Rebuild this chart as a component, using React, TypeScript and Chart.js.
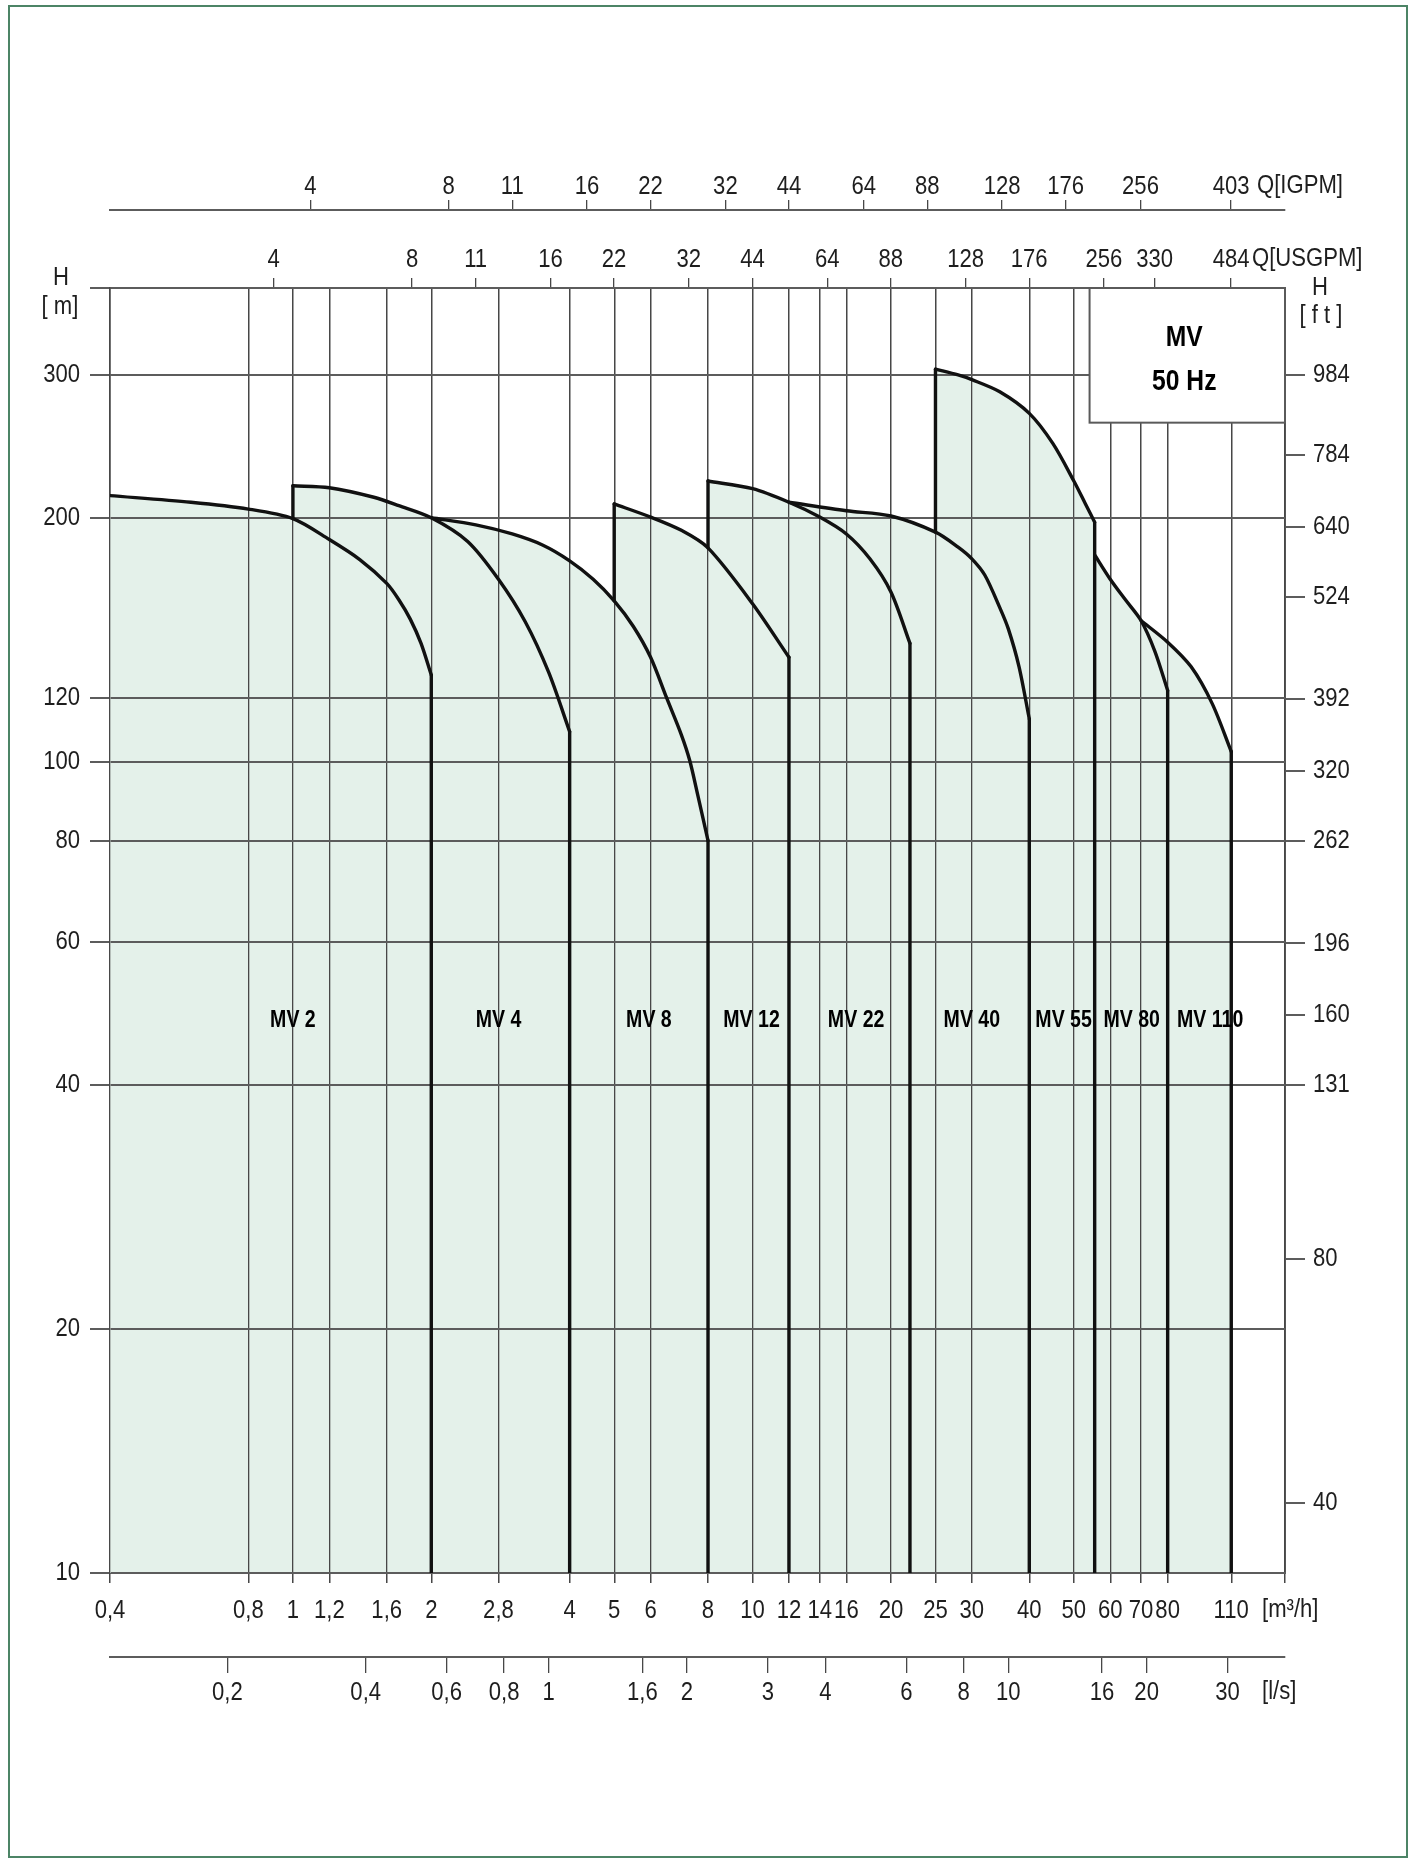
import React, { useEffect, useRef } from 'react';
import { Chart, registerables } from 'chart.js';

Chart.register(...registerables);

const FONT = "'Liberation Sans', Arial, sans-serif";
const SQUEEZE = 0.85;

// ---- axis ranges (m3/h and m) ----
const Q_MIN = 0.4;
const Q_MAX = 144;
const H_MIN = 10;
const H_MAX = 384;

// unit conversions
const TO_LS = 1 / 3.6;
const TO_USGPM = 4.4029;
const TO_IGPM = 3.6662;
const TO_FT = 3.28084;

// ---- tick labels ----
const flowTicks = [0.4, 0.8, 1, 1.2, 1.6, 2, 2.8, 4, 5, 6, 8, 10, 12, 14, 16, 20, 25, 30, 40, 50, 60, 70, 80, 110];
const lsTicks = [0.2, 0.4, 0.6, 0.8, 1, 1.6, 2, 3, 4, 6, 8, 10, 16, 20, 30];
const usgpmTicks = [4, 8, 11, 16, 22, 32, 44, 64, 88, 128, 176, 256, 330, 484];
const igpmTicks = [4, 8, 11, 16, 22, 32, 44, 64, 88, 128, 176, 256, 403];
const headTicks = [10, 20, 40, 60, 80, 100, 120, 200, 300];
const feetTicks = [40, 80, 131, 160, 196, 262, 320, 392, 524, 640, 784, 984];

// ---- pump models ----
const models = ['MV 2', 'MV 4', 'MV 8', 'MV 12', 'MV 22', 'MV 40', 'MV 55', 'MV 80', 'MV 110'];
const labelQ = [1.0, 2.8, 5.95, 9.95, 16.8, 30, 47.5, 66.8, 99];
const labelH = 48;

// curves: flow Q [m3/h] and head H [m]
const mv2Q = [0.4, 0.6, 0.8, 1.0, 1.2, 1.4, 1.6, 1.7, 1.8, 1.9, 2.0];
const mv2H = [213, 209, 205, 199.5, 188, 177.5, 166, 158.5, 150, 140, 128];
const mv4Q = [1.0, 1.2, 1.5, 1.7, 2.0, 2.4, 2.8, 3.2, 3.6, 4.0];
const mv4H = [219, 217.8, 212, 207, 200, 187, 168, 149, 129, 109];
const mv8Q = [2.0, 2.5, 3.0, 3.5, 4.0, 4.5, 5.0, 5.5, 6.0, 6.5, 7.0, 7.3, 7.6, 8.0];
const mv8H = [200, 196, 191, 185, 177, 168, 158, 147, 134.6, 120, 108, 100.4, 91, 80];
const mv12Q = [5, 6, 7, 8, 10, 12];
const mv12H = [208, 200.4, 193, 183.6, 156.7, 134.6];
const mv22Q = [8, 10, 12, 14, 16, 18, 20, 22];
const mv22H = [222, 217.2, 209, 200.4, 191, 178, 162, 140];
const mv40Q = [12, 16, 20, 25, 28, 30, 32, 34.5, 36, 38, 40];
const mv40H = [209, 204, 201, 192, 184, 178, 170, 155, 146, 131, 113];
const mv55Q = [25, 28, 30, 34.5, 40, 45, 50, 53, 55.5];
const mv55H = [305, 300, 296, 286, 269, 247, 222, 208, 197.5];
const mv80Q = [55.5, 60, 65, 70, 75, 80];
const mv80H = [180, 168, 158, 149.4, 137, 122.5];
const mv110Q = [70, 80, 90, 100, 110];
const mv110H = [149.4, 140.5, 131, 118, 103];

// head from which each curve's starting vertical rises (null = none)
const startFromH = [null, 199.5, null, 158, 183.6, null, 192, null, null];

// "MV / 50 Hz" box corner (flow, head)
const boxQ = 54.1;
const boxH = 262;

const curveQ = [mv2Q, mv4Q, mv8Q, mv12Q, mv22Q, mv40Q, mv55Q, mv80Q, mv110Q];
const curveH = [mv2H, mv4H, mv8H, mv12H, mv22H, mv40H, mv55H, mv80H, mv110H];

const FILL = '#e4f1ea';
const LINE = '#111111';
const GRID_H = '#5c5c5c';
const GRID_V = '#474747';
const TEXT = '#1e1e1e';

const fmt = (v: number) => String(v).replace('.', ',');

const setTicks = (vals: number[]) => (scale: any) => {
  scale.ticks = vals.map((v) => ({ value: v }));
};

export default function App() {
  const ref = useRef<HTMLCanvasElement | null>(null);

  useEffect(() => {
    const canvas = ref.current;
    if (!canvas) return;

    // condensed lettering: squeeze every text horizontally
    const c2d: any = canvas.getContext('2d');
    if (c2d && !c2d.__squeezed) {
      const orig = c2d.fillText.bind(c2d);
      c2d.fillText = (t: string, x: number, y: number, mw?: number) => {
        const w = c2d.measureText(t).width * SQUEEZE;
        orig(t, x, y, mw === undefined ? w : Math.min(mw, w));
      };
      c2d.__squeezed = true;
    }

    const datasets: any[] = [];
    curveQ.forEach((qs, i) => {
      const hs = curveH[i];
      datasets.push({
        label: models[i],
        data: qs.map((q, k) => ({ x: q, y: hs[k] })),
        borderColor: LINE,
        borderWidth: 3.4,
        backgroundColor: FILL,
        fill: 'start',
        pointRadius: 0,
        tension: 0.3,
        borderCapStyle: 'round',
        borderJoinStyle: 'round',
      });
      const last = qs.length - 1;
      datasets.push({
        label: models[i] + ' end',
        data: [
          { x: qs[last], y: hs[last] },
          { x: qs[last], y: H_MIN },
        ],
        borderColor: LINE,
        borderWidth: 3.4,
        fill: false,
        pointRadius: 0,
        tension: 0,
        borderCapStyle: 'round',
      });
      const from = startFromH[i];
      if (from !== null) {
        datasets.push({
          label: models[i] + ' start',
          data: [
            { x: qs[0], y: from },
            { x: qs[0], y: hs[0] },
          ],
          borderColor: LINE,
          borderWidth: 3.4,
          fill: false,
          pointRadius: 0,
          tension: 0,
          borderCapStyle: 'round',
        });
      }
    });

    const gridOnTop = {
      id: 'gridOnTop',
      beforeDatasetsDraw(chart: any) {
        chart.scales.x.drawGrid(chart.chartArea);
        chart.scales.y.drawGrid(chart.chartArea);
      },
    };

    const labelsPlugin = {
      id: 'labelsPlugin',
      afterDatasetsDraw(chart: any) {
        const ctx = chart.ctx;
        const x = chart.scales.x;
        const y = chart.scales.y;
        ctx.save();
        ctx.fillStyle = '#000';
        ctx.font = `bold 23px ${FONT}`;
        ctx.textAlign = 'center';
        ctx.textBaseline = 'middle';
        models.forEach((m, i) => {
          ctx.fillText(m, x.getPixelForValue(labelQ[i]), y.getPixelForValue(labelH));
        });
        ctx.restore();
      },
      afterDraw(chart: any) {
        const ctx = chart.ctx;
        const a = chart.chartArea;
        const x = chart.scales.x;
        const y = chart.scales.y;
        ctx.save();
        // MV / 50 Hz box
        const bx = x.getPixelForValue(boxQ);
        const by = y.getPixelForValue(boxH);
        ctx.fillStyle = '#fff';
        ctx.fillRect(bx, a.top, a.right - bx, by - a.top);
        ctx.strokeStyle = '#5a5a5a';
        ctx.lineWidth = 2;
        ctx.strokeRect(bx, a.top, a.right - bx, by - a.top);
        ctx.fillStyle = '#000';
        ctx.textAlign = 'center';
        ctx.textBaseline = 'middle';
        ctx.font = `bold 29px ${FONT}`;
        const cx = (bx + a.right) / 2 - 3;
        ctx.fillText('MV', cx, a.top + 50);
        ctx.fillText('50 Hz', cx, a.top + 94);

        // unit labels
        ctx.fillStyle = TEXT;
        ctx.font = `26px ${FONT}`;
        ctx.textAlign = 'center';
        ctx.fillText('H', a.left - 49, a.top - 10);
        ctx.fillText('[ m]', a.left - 50, a.top + 19);
        ctx.fillText('H', a.right + 35, a.top);
        ctx.fillText('[ f t ]', a.right + 36, a.top + 28);
        ctx.textAlign = 'left';
        ctx.fillText('Q[IGPM]', a.right - 28, chart.scales.xig.bottom - 24);
        ctx.fillText('Q[USGPM]', a.right - 33, a.top - 29);
        ctx.fillText('[m³/h]', a.right - 23, a.bottom + 37);
        ctx.fillText('[l/s]', a.right - 23, chart.scales.xls.top + 35);
        ctx.restore();
      },
    };

    const tickFont = { family: FONT, size: 26 };

    const chart = new Chart(canvas, {
      type: 'line',
      data: { datasets },
      options: {
        animation: false,
        responsive: false,
        maintainAspectRatio: false,
        devicePixelRatio: 1,
        layout: { padding: { left: 0, right: 0, top: 150, bottom: 146 } },
        plugins: {
          legend: { display: false },
          tooltip: { enabled: false },
          filler: { drawTime: 'beforeDatasetsDraw' },
        },
        scales: {
          x: {
            type: 'logarithmic',
            position: 'bottom',
            weight: 0,
            min: Q_MIN,
            max: Q_MAX,
            afterBuildTicks: setTicks([...flowTicks, Q_MAX]),
            afterFit: (s: any) => { s.height = 84; },
            ticks: {
              autoSkip: false,
              maxRotation: 0,
              minRotation: 0,
              padding: 12,
              color: TEXT,
              font: tickFont,
              callback: (v: any) => (v === Q_MAX ? '' : fmt(v)),
            },
            grid: { color: GRID_V, lineWidth: 1.3, tickLength: 10 },
            border: { display: true, color: GRID_H, width: 2 },
          },
          xls: {
            type: 'logarithmic',
            position: 'bottom',
            weight: 1,
            min: Q_MIN * TO_LS,
            max: Q_MAX * TO_LS,
            afterBuildTicks: setTicks(lsTicks),
            afterFit: (s: any) => { s.height = 60; },
            ticks: {
              autoSkip: false,
              maxRotation: 0,
              minRotation: 0,
              padding: 4,
              color: TEXT,
              font: tickFont,
              callback: (v: any) => fmt(v),
            },
            grid: { drawOnChartArea: false, color: GRID_V, lineWidth: 1.3, tickLength: 16 },
            border: { display: true, color: GRID_H, width: 2 },
          },
          xus: {
            type: 'logarithmic',
            position: 'top',
            weight: 0,
            min: Q_MIN * TO_USGPM,
            max: Q_MAX * TO_USGPM,
            afterBuildTicks: setTicks(usgpmTicks),
            afterFit: (s: any) => { s.height = 78; },
            ticks: {
              autoSkip: false,
              maxRotation: 0,
              minRotation: 0,
              padding: 3,
              color: TEXT,
              font: tickFont,
              callback: (v: any) => fmt(v),
            },
            grid: { drawOnChartArea: false, color: GRID_V, lineWidth: 1.3, tickLength: 10 },
            border: { display: true, color: GRID_H, width: 2 },
          },
          xig: {
            type: 'logarithmic',
            position: 'top',
            weight: 1,
            min: Q_MIN * TO_IGPM,
            max: Q_MAX * TO_IGPM,
            afterBuildTicks: setTicks(igpmTicks),
            afterFit: (s: any) => { s.height = 60; },
            ticks: {
              autoSkip: false,
              maxRotation: 0,
              minRotation: 0,
              padding: -2,
              color: TEXT,
              font: tickFont,
              callback: (v: any) => fmt(v),
            },
            grid: { drawOnChartArea: false, color: GRID_V, lineWidth: 1.3, tickLength: 10 },
            border: { display: true, color: GRID_H, width: 2 },
          },
          y: {
            type: 'logarithmic',
            position: 'left',
            min: H_MIN,
            max: H_MAX,
            afterBuildTicks: setTicks([...headTicks, H_MAX]),
            afterFit: (s: any) => { s.width = 110; },
            ticks: {
              autoSkip: false,
              padding: 10,
              color: TEXT,
              font: tickFont,
              callback: (v: any) => (v === H_MAX ? '' : fmt(v)),
            },
            grid: { color: GRID_H, lineWidth: 2, tickLength: 20 },
            border: { display: true, color: GRID_V, width: 1.5 },
          },
          yft: {
            type: 'logarithmic',
            position: 'right',
            min: H_MIN * TO_FT,
            max: H_MAX * TO_FT,
            afterBuildTicks: setTicks(feetTicks),
            afterFit: (s: any) => { s.width = 131; },
            ticks: {
              autoSkip: false,
              padding: 8,
              color: TEXT,
              font: tickFont,
              callback: (v: any) => fmt(v),
            },
            grid: { drawOnChartArea: false, color: GRID_H, lineWidth: 2, tickLength: 20 },
            border: { display: true, color: GRID_H, width: 2 },
          },
        },
      } as any,
      plugins: [gridOnTop, labelsPlugin],
    });

    return () => chart.destroy();
  }, []);

  return (
    <div style={{ position: 'absolute', left: 0, top: 0, width: 1416, height: 1863, background: '#fff' }}>
      <canvas ref={ref} width={1416} height={1863} style={{ position: 'absolute', left: 0, top: 0, width: 1416, height: 1863 }} />
      <div
        style={{
          position: 'absolute',
          left: 8,
          top: 5,
          width: 1400,
          height: 1853,
          boxSizing: 'border-box',
          border: '2px solid #4c8466',
          pointerEvents: 'none',
        }}
      />
    </div>
  );
}
